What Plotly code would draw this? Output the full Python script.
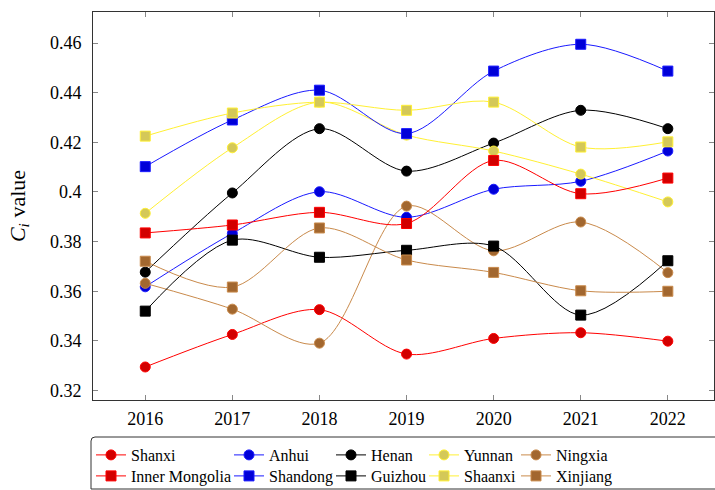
import plotly.graph_objects as go

years = [2016, 2017, 2018, 2019, 2020, 2021, 2022]

shanxi = [0.3295, 0.3426, 0.3526, 0.3347, 0.3410, 0.3433, 0.3399]
anhui = [0.3618, 0.3833, 0.4001, 0.3898, 0.4011, 0.4043, 0.4165]
henan = [0.3677, 0.3996, 0.4255, 0.4084, 0.4197, 0.4329, 0.4255]
yunnan = [0.3914, 0.4178, 0.4362, 0.4229, 0.4165, 0.4072, 0.3960]
ningxia = [0.3632, 0.3528, 0.3391, 0.3943, 0.3763, 0.3879, 0.3675]
inner_mongolia = [0.3835, 0.3867, 0.3918, 0.3873, 0.4127, 0.3993, 0.4056]
shandong = [0.4102, 0.4290, 0.4410, 0.4235, 0.4487, 0.4595, 0.4487]
guizhou = [0.3520, 0.3806, 0.3737, 0.3765, 0.3782, 0.3504, 0.3723]
shaanxi = [0.4225, 0.4318, 0.4362, 0.4329, 0.4362, 0.4181, 0.4202]
xinjiang = [0.3721, 0.3617, 0.3855, 0.3726, 0.3676, 0.3602, 0.3600]

y_ticks = [0.32, 0.34, 0.36, 0.38, 0.40, 0.42, 0.44, 0.46]
y_tick_labels = ["0.32", "0.34", "0.36", "0.38", "0.4", "0.42", "0.44", "0.46"]

# (name, values, line colour, marker fill, marker symbol)
series = [
    ("Shanxi", shanxi, "#ff0000", "#d20000", "circle"),
    ("Anhui", anhui, "#1a1aff", "#0000d8", "circle"),
    ("Henan", henan, "#000000", "#000000", "circle"),
    ("Yunnan", yunnan, "#fff033", "#d4c858", "circle"),
    ("Ningxia", ningxia, "#c98a4b", "#a2672f", "circle"),
    ("Inner Mongolia", inner_mongolia, "#ff0000", "#d20000", "square"),
    ("Shandong", shandong, "#1a1aff", "#0000d8", "square"),
    ("Guizhou", guizhou, "#000000", "#000000", "square"),
    ("Shaanxi", shaanxi, "#fff033", "#d4c858", "square"),
    ("Xinjiang", xinjiang, "#c98a4b", "#a2672f", "square"),
]

FONT = "Liberation Serif"
W, H = 715, 490
ML, MR, MT, MB = 93, 1, 12, 90
PW, PH = W - ML - MR, H - MT - MB


def px_x(px):
    return (px - ML) / PW


def px_y(py):
    return (H - MB - py) / PH


# legend grid: five columns, two rows (pixel positions of each entry)
col_left = [91, 229, 331, 424, 516]
row_top = [438, 459]

fig = go.Figure()
legends = {}
for i, (name, vals, lc, mc, sym) in enumerate(series):
    key = "legend" if i == 0 else f"legend{i + 1}"
    row, col = divmod(i, 5)
    legends[key] = dict(
        orientation="v", xanchor="left", yanchor="top",
        x=px_x(col_left[col]), y=px_y(row_top[row]),
        bgcolor="rgba(0,0,0,0)", borderwidth=0,
        font=dict(family=FONT, size=16, color="#000"), itemwidth=30,
    )
    fig.add_trace(go.Scatter(
        x=years, y=vals, name=name, mode="lines+markers", legend=key,
        line=dict(color=lc, width=1, shape="spline", smoothing=0.9),
        marker=dict(symbol=sym, size=10, color=mc, line=dict(color=lc, width=1)),
    ))

fig.update_layout(
    width=W, height=H,
    margin=dict(l=ML, r=MR, t=MT, b=MB, autoexpand=False),
    plot_bgcolor="white", paper_bgcolor="white",
    font=dict(family=FONT, size=16, color="#000"),
    showlegend=True,
    **legends,
)

# legend frame with rounded top-left corner
fig.add_shape(
    type="path", xref="paper", yref="paper", layer="below",
    path=(f"M {px_x(91)},{px_y(489)} L {px_x(91)},{px_y(441)} "
          f"Q {px_x(91)},{px_y(437)} {px_x(95)},{px_y(437)} L {px_x(717)},{px_y(437)} "
          f"L {px_x(717)},{px_y(489)} Z"),
    line=dict(color="#333", width=1), fillcolor="white",
)

fig.update_xaxes(
    range=[2015.4, 2022.53], tickvals=years, ticktext=[str(y) for y in years],
    showgrid=False, zeroline=False, showline=True, linecolor="#333", linewidth=1,
    mirror="ticks", ticks="inside", ticklen=5, tickcolor="#888",
    tickfont=dict(family=FONT, size=18), ticklabelstandoff=2,
)
fig.update_yaxes(
    range=[0.3162, 0.4725], tickvals=y_ticks, ticktext=y_tick_labels,
    showgrid=False, zeroline=False, showline=True, linecolor="#333", linewidth=1,
    mirror="ticks", ticks="inside", ticklen=5, tickcolor="#888",
    tickfont=dict(family=FONT, size=18), ticklabelstandoff=7,
    title=dict(text="<i>C</i><sub><i>i</i></sub> value", font=dict(family=FONT, size=22), standoff=18),
)

fig.write_html("out.html")
